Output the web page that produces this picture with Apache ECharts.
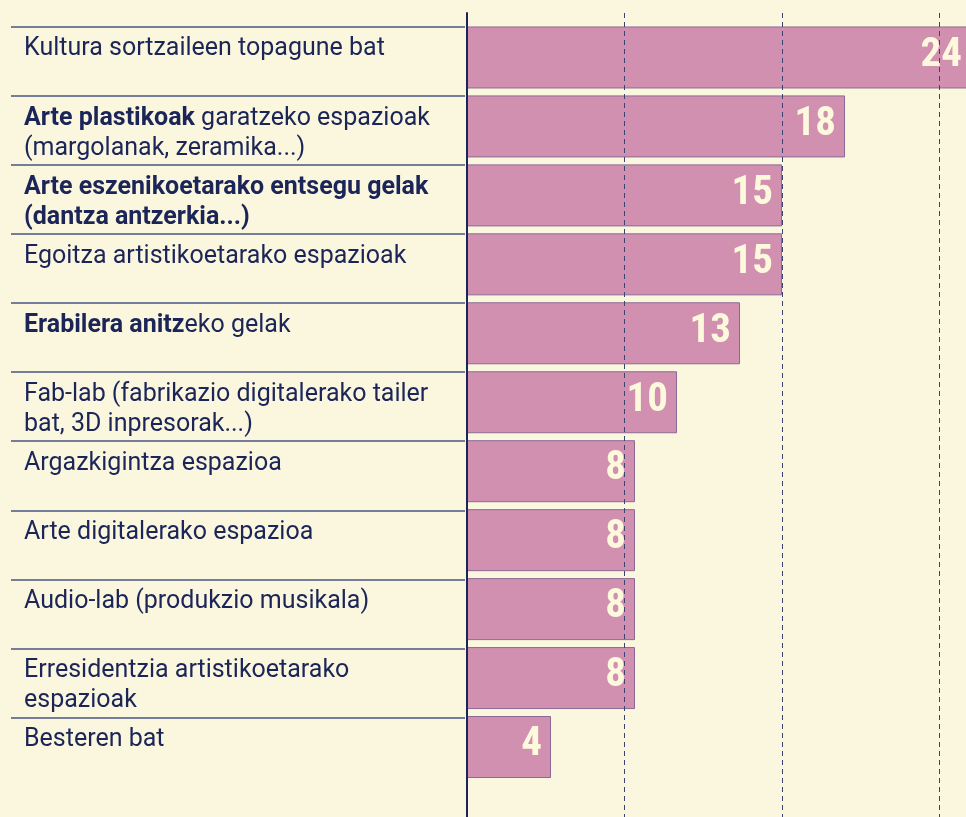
<!DOCTYPE html>
<html>
<head>
<meta charset="utf-8">
<script src="https://cdn.jsdelivr.net/npm/echarts@6/dist/echarts.min.js"></script>
<style>
html,body{margin:0;padding:0;background:#faf7de;}
#chart{width:966px;height:817px;}
</style>
</head>
<body>
<div id="chart"></div>
<script>
const categories = [
  'Kultura sortzaileen topagune bat',
  'Arte plastikoak garatzeko espazioak\n(margolanak, zeramika...)',
  'Arte eszenikoetarako entsegu gelak\n(dantza antzerkia...)',
  'Egoitza artistikoetarako espazioak',
  'Erabilera anitzeko gelak',
  'Fab-lab (fabrikazio digitalerako tailer\nbat, 3D inpresorak...)',
  'Argazkigintza espazioa',
  'Arte digitalerako espazioa',
  'Audio-lab (produkzio musikala)',
  'Erresidentzia artistikoetarako\nespazioak',
  'Besteren bat'
];
const boldParts = [
  '',
  'Arte plastikoak',
  'Arte eszenikoetarako entsegu gelak\n(dantza antzerkia...)',
  '',
  'Erabilera anitz',
  '', '', '', '', '', ''
];
const values = [24, 18, 15, 15, 13, 10, 8, 8, 8, 8, 4];
const axisMax = 23.76;
const gridInterval = 7.5;

const navy = '#1b2558';
const lineColors = categories.map(() => '#4a5482').concat(['rgba(0,0,0,0)']);
const gridLineColors = ['#3a4472', '#3a4472', '#3a4472', '#3a4472', 'rgba(0,0,0,0)'];

function leftLabel(value, idx) {
  const b = boldParts[idx] || '';
  const rest = value.slice(b.length);
  let s = '';
  if (b) s += '{b|' + b + '}';
  if (rest) {
    s += rest.split('\n').map(t => '{n|' + t + '}').join('\n');
  }
  if (value.indexOf('\n') < 0) s += '\n{n| }';
  return s;
}

const chart = echarts.init(document.getElementById('chart'));
chart.setOption({
  backgroundColor: '#faf7de',
  animation: false,
  grid: [
    {left: 467, top: 23, height: 758.5, right: 0, containLabel: false},
    {left: 467, top: 13, bottom: 0, right: 0, containLabel: false},
    {left: 11, top: 26.7, height: 760, width: 454, containLabel: false}
  ],
  xAxis: [
    {gridIndex: 0, type: 'value', min: 0, max: axisMax, show: false},
    {gridIndex: 1, type: 'value', min: 0, max: axisMax, interval: gridInterval, z: 5,
      axisLine: {show: false}, axisTick: {show: false}, axisLabel: {show: false},
      splitLine: {show: true, lineStyle: {color: gridLineColors, width: 1, type: [5, 4]}}},
    {gridIndex: 2, type: 'value', show: false}
  ],
  yAxis: [
    {gridIndex: 0, type: 'category', inverse: true, data: categories, show: false},
    {gridIndex: 1, type: 'value', min: 0, max: 1, z: 6,
      axisLine: {show: true, lineStyle: {color: navy, width: 2}},
      axisTick: {show: false}, axisLabel: {show: false}, splitLine: {show: false}},
    {gridIndex: 2, type: 'category', inverse: true, data: categories,
      axisLine: {show: false}, axisTick: {show: false},
      splitLine: {show: true, interval: 0, lineStyle: {color: lineColors, width: 1.5}},
      axisLabel: {
        show: true, inside: true, interval: 0, margin: 13, align: 'left',
        formatter: leftLabel,
        color: navy, fontFamily: 'Roboto', fontSize: 25, lineHeight: 30,
        padding: [6, 0, 0, 0],
        rich: {
          b: {color: navy, fontFamily: 'Roboto', fontWeight: 'bold', fontSize: 25, lineHeight: 30},
          n: {color: navy, fontFamily: 'Roboto', fontWeight: 'normal', fontSize: 25, lineHeight: 30}
        }
      }}
  ],
  series: [{
    type: 'bar',
    xAxisIndex: 0, yAxisIndex: 0,
    data: values,
    barWidth: 62,
    clip: false,
    itemStyle: {color: '#d290b0', borderColor: '#8a6a94', borderWidth: 1},
    label: {
      show: true, position: 'insideRight', distance: 9, offset: [0, -2],
      color: '#fdf9dd', fontFamily: '"Liberation Sans Narrow", "Roboto Condensed", Roboto',
      fontWeight: 'bold', fontSize: 41
    }
  }]
});
</script>
</body>
</html>
